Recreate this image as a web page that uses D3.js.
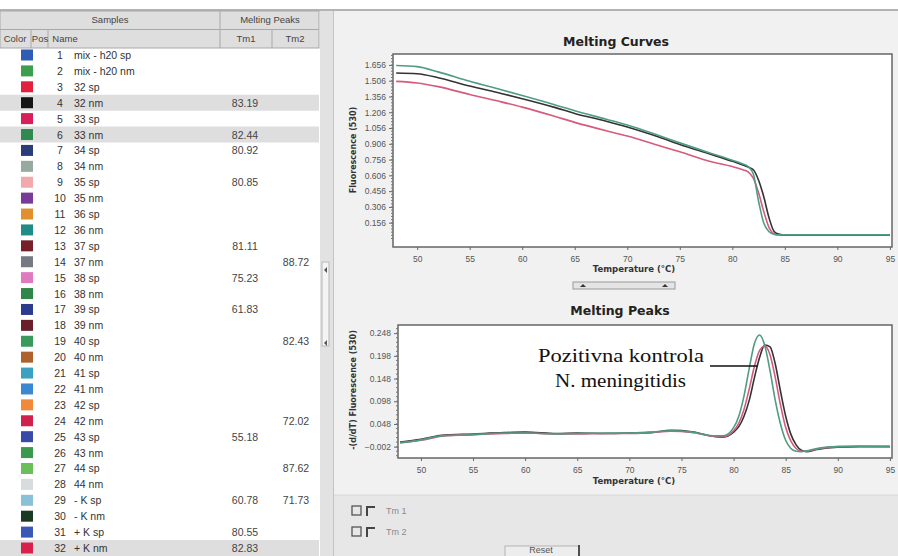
<!DOCTYPE html>
<html>
<head>
<meta charset="utf-8">
<script src="https://cdn.jsdelivr.net/npm/d3@7"></script>
<style>
  body { margin: 0; background: #fff; }
  svg { display: block; font-family: "Liberation Sans", Arial, sans-serif; }
</style>
</head>
<body>
<svg id="chart" width="898" height="556"></svg>
<script>
// samples table
const samplePos = [1, 2, 3, 4, 5, 6, 7, 8, 9, 10, 11, 12, 13, 14, 15, 16,
  17, 18, 19, 20, 21, 22, 23, 24, 25, 26, 27, 28, 29, 30, 31, 32];
const sampleNames = ['mix - h20 sp', 'mix - h20 nm', '32 sp', '32 nm', '33 sp', '33 nm',
  '34 sp', '34 nm', '35 sp', '35 nm', '36 sp', '36 nm', '37 sp', '37 nm', '38 sp', '38 nm',
  '39 sp', '39 nm', '40 sp', '40 nm', '41 sp', '41 nm', '42 sp', '42 nm', '43 sp', '43 nm',
  '44 sp', '44 nm', '- K sp', '- K nm', '+ K sp', '+ K nm'];
const sampleColors = ['#2f5db5', '#3d9e4c', '#e21f3c', '#151515', '#d81f5c', '#2f8a50',
  '#2b3c78', '#97aa9f', '#f1a9ab', '#7a3a98', '#e0902c', '#1f8c88', '#78202a', '#767a82',
  '#e07ac0', '#2f8648', '#2b3c8e', '#6a1f2c', '#3a9a5c', '#b0622e', '#3aa2c0', '#3a88d0',
  '#f08a3a', '#d0204c', '#3a4aa8', '#3a9a4c', '#6abf5a', '#d8dcdc', '#8ac0d8', '#1a3a22',
  '#3a58b6', '#d8204c'];
const tm1Values = [null, null, null, 83.19, null, 82.44, 80.92, null, 80.85, null, null, null,
  81.11, null, 75.23, null, 61.83, null, null, null, null, null, null, null, 55.18, null,
  null, null, 60.78, null, 80.55, 82.83];
const tm2Values = [null, null, null, null, null, null, null, null, null, null, null, null,
  null, 88.72, null, null, null, null, 82.43, null, null, null, null, 72.02, null, null,
  87.62, null, 71.73, null, null, null];
const highlightedRows = [4, 6, 32];

// melting curves (fluorescence 530)
const meltTemps = [48, 50, 52, 55, 58, 60, 63, 65, 68, 70, 73, 75, 78, 80, 81, 81.5, 82,
  82.5, 83, 83.5, 84, 84.5, 85, 88, 90, 92, 95];
const meltGreen = [1.650, 1.640, 1.590, 1.500, 1.420, 1.365, 1.280, 1.220, 1.140, 1.085,
  0.985, 0.915, 0.815, 0.750, 0.715, 0.690, 0.620, 0.360, 0.150, 0.070, 0.045, 0.040,
  0.040, 0.040, 0.040, 0.040, 0.040];
const meltBlack = [1.580, 1.572, 1.535, 1.455, 1.385, 1.335, 1.255, 1.195, 1.120, 1.065,
  0.970, 0.900, 0.805, 0.740, 0.705, 0.685, 0.660, 0.560, 0.400, 0.200, 0.070, 0.045,
  0.040, 0.040, 0.040, 0.040, 0.040];
const meltCrimson = [1.500, 1.485, 1.450, 1.375, 1.305, 1.255, 1.170, 1.110, 1.030, 0.980,
  0.890, 0.830, 0.735, 0.690, 0.660, 0.640, 0.580, 0.440, 0.260, 0.110, 0.050, 0.040,
  0.038, 0.038, 0.038, 0.038, 0.038];
const meltTicks = [0.156, 0.306, 0.456, 0.606, 0.756, 0.906, 1.056, 1.206, 1.356, 1.506, 1.656];

// melting peaks -(d/dT)
const peakTemps = [48, 50, 52, 55, 58, 60, 63, 65, 68, 70, 72, 74, 76, 78, 79, 80, 80.5, 81,
  81.5, 82, 82.5, 83, 83.5, 84, 84.5, 85, 85.5, 86, 86.5, 87, 88, 90, 92, 95];
const peakGreen = [0.006, 0.013, 0.022, 0.024, 0.028, 0.028, 0.026, 0.027, 0.028, 0.028,
  0.030, 0.033, 0.030, 0.022, 0.022, 0.040, 0.065, 0.110, 0.170, 0.225, 0.244, 0.220,
  0.165, 0.100, 0.048, 0.012, -0.006, -0.012, -0.013, -0.011, -0.006, -0.002, -0.001, -0.002];
const peakBlack = [0.008, 0.014, 0.023, 0.026, 0.029, 0.030, 0.027, 0.028, 0.027, 0.028,
  0.029, 0.034, 0.031, 0.021, 0.019, 0.030, 0.042, 0.065, 0.100, 0.150, 0.195, 0.222,
  0.218, 0.180, 0.120, 0.065, 0.025, 0.002, -0.010, -0.013, -0.008, -0.003, -0.002, -0.002];
const peakCrimson = [0.007, 0.012, 0.021, 0.025, 0.027, 0.028, 0.026, 0.026, 0.027, 0.027,
  0.029, 0.032, 0.029, 0.021, 0.020, 0.033, 0.050, 0.080, 0.125, 0.175, 0.210, 0.220,
  0.200, 0.150, 0.090, 0.040, 0.010, -0.006, -0.012, -0.012, -0.007, -0.002, -0.001, -0.001];
const peakTicks = [-0.002, 0.048, 0.098, 0.148, 0.198, 0.248];

const tempTicks = [50, 55, 60, 65, 70, 75, 80, 85, 90, 95];
const curveColors = { green: '#4f9c84', black: '#333333', crimson: '#d65a7c' };

const svg = d3.select('#chart');

// ---------- left panel: table ----------
const rowY = d3.scaleLinear().domain([1, 32]).range([55, 548]);

svg.append('line').attr('x1', 0).attr('x2', 898).attr('y1', 10).attr('y2', 10)
  .attr('stroke', '#9a9a9a').attr('stroke-width', 1.5);

const head = svg.append('g');
head.append('rect').attr('x', 0).attr('y', 11).attr('width', 319).attr('height', 37)
  .attr('fill', '#dedede').attr('stroke', '#a8a8a8');
head.append('line').attr('x1', 0).attr('x2', 319).attr('y1', 29.5).attr('y2', 29.5)
  .attr('stroke', '#a8a8a8');
[[31, 29.5], [48, 29.5], [220, 11], [272, 29.5]].forEach(([x, y0]) => {
  head.append('line').attr('x1', x).attr('x2', x).attr('y1', y0).attr('y2', 48)
    .attr('stroke', '#a8a8a8');
});
const headTexts = [
  { t: 'Samples', x: 110, y: 23 }, { t: 'Melting Peaks', x: 270, y: 23 },
  { t: 'Color', x: 15, y: 42 }, { t: 'Pos', x: 40, y: 42 },
  { t: 'Name', x: 65, y: 42 }, { t: 'Tm1', x: 246, y: 42 }, { t: 'Tm2', x: 295, y: 42 }
];
head.selectAll('text').data(headTexts).enter().append('text')
  .attr('x', d => d.x).attr('y', d => d.y)
  .attr('text-anchor', 'middle')
  .style('font-size', '9.5px').style('fill', '#444')
  .text(d => d.t);

const rows = svg.append('g').selectAll('g')
  .data(samplePos).enter().append('g')
  .attr('transform', d => `translate(0, ${rowY(d)})`);

rows.filter(d => highlightedRows.includes(d)).append('rect')
  .attr('x', 0).attr('y', -8).attr('width', 319).attr('height', 16)
  .attr('fill', '#dedede');

rows.append('rect')
  .attr('x', 21).attr('y', -5.5).attr('width', 12).attr('height', 11)
  .attr('fill', (d, i) => sampleColors[i]);

rows.append('text')
  .attr('x', 60).attr('y', 4).attr('text-anchor', 'middle')
  .style('font-size', '10.5px').style('fill', '#333')
  .text(d => d);

rows.append('text')
  .attr('x', 74).attr('y', 4)
  .style('font-size', '10.5px').style('fill', '#333')
  .text((d, i) => sampleNames[i]);

rows.append('text')
  .attr('x', 245).attr('y', 4).attr('text-anchor', 'middle')
  .style('font-size', '10.5px').style('fill', '#444')
  .text((d, i) => tm1Values[i] == null ? '' : tm1Values[i].toFixed(2));

rows.append('text')
  .attr('x', 296).attr('y', 4).attr('text-anchor', 'middle')
  .style('font-size', '10.5px').style('fill', '#444')
  .text((d, i) => tm2Values[i] == null ? '' : tm2Values[i].toFixed(2));

// splitter between panels
svg.append('rect').attr('x', 320).attr('y', 11).attr('width', 13).attr('height', 545)
  .attr('fill', '#e2e2e2');
svg.append('rect').attr('x', 322).attr('y', 262).attr('width', 7).attr('height', 84)
  .attr('fill', '#f4f4f4').attr('stroke', '#b8b8b8');
[270, 343].forEach(y => {
  svg.append('path').attr('d', `M327,${y - 3} L324,${y} L327,${y + 3}Z`).attr('fill', '#555');
});

// ---------- right panel ----------
svg.append('rect').attr('x', 333).attr('y', 11).attr('width', 565).attr('height', 545)
  .attr('fill', '#f1f1f1');
svg.append('line').attr('x1', 333.5).attr('x2', 333.5).attr('y1', 11).attr('y2', 556)
  .attr('stroke', '#c4c4c4');
svg.append('rect').attr('x', 334).attr('y', 495).attr('width', 564).attr('height', 61)
  .attr('fill', '#e7e7e7');
svg.append('line').attr('x1', 334).attr('x2', 898).attr('y1', 495).attr('y2', 495)
  .attr('stroke', '#d8d8d8');

// chart panel splitter handle
svg.append('rect').attr('x', 573).attr('y', 282).attr('width', 102).attr('height', 7)
  .attr('fill', '#e4e4e4').attr('stroke', '#9a9a9a');
svg.append('path').attr('d', 'M580,287 L583,284 L586,287Z').attr('fill', '#333');
svg.append('path').attr('d', 'M662,287 L665,284 L668,287Z').attr('fill', '#333');

function drawPanel(cfg) {
  const x = d3.scaleLinear().domain(cfg.xDomain).range([cfg.left, cfg.right]);
  const y = d3.scaleLinear().domain(cfg.yDomain).range([cfg.bottom, cfg.top]);
  const g = svg.append('g');

  g.append('text')
    .attr('x', cfg.titleX).attr('y', cfg.titleY).attr('text-anchor', 'middle')
    .style('font-family', '"DejaVu Sans", Verdana, sans-serif')
    .style('font-size', '12.5px').style('font-weight', 'bold').style('fill', '#222')
    .text(cfg.title);

  g.append('rect')
    .attr('x', cfg.left).attr('y', cfg.top)
    .attr('width', cfg.right - cfg.left).attr('height', cfg.bottom - cfg.top)
    .attr('fill', '#fff');

  const clipId = 'clip-' + cfg.id;
  g.append('clipPath').attr('id', clipId).append('rect')
    .attr('x', cfg.left).attr('y', cfg.top)
    .attr('width', cfg.right - cfg.left).attr('height', cfg.bottom - cfg.top);

  const line = d3.line()
    .x(d => x(d[0])).y(d => y(d[1]))
    .curve(d3.curveMonotoneX);

  const lines = g.append('g').attr('clip-path', `url(#${clipId})`);
  cfg.series.forEach(s => {
    lines.append('path')
      .datum(cfg.temps.map((t, i) => [t, s.values[i]]))
      .attr('d', line)
      .attr('fill', 'none')
      .attr('stroke', s.color)
      .attr('stroke-width', 1.6);
  });

  g.append('rect')
    .attr('x', cfg.left).attr('y', cfg.top)
    .attr('width', cfg.right - cfg.left).attr('height', cfg.bottom - cfg.top)
    .attr('fill', 'none').attr('stroke', '#666').attr('stroke-width', 1.5);

  // axes
  const xAxis = g.append('g')
    .attr('transform', `translate(0, ${cfg.bottom})`)
    .call(d3.axisBottom(x).tickValues(tempTicks).tickSize(3).tickFormat(d3.format('d')));
  const yAxis = g.append('g')
    .attr('transform', `translate(${cfg.left}, 0)`)
    .call(d3.axisLeft(y).tickValues(cfg.yTicks).tickSize(4).tickFormat(d3.format('.3f')));

  // minor ticks on y axis
  const step = cfg.yTicks[1] - cfg.yTicks[0];
  const minor = [];
  for (let v = cfg.yTicks[0] - step; v < cfg.yDomain[1]; v += step / 5) {
    if (v > cfg.yDomain[0]) minor.push(v);
  }
  g.append('g').selectAll('line').data(minor).enter().append('line')
    .attr('x1', cfg.left - 2).attr('x2', cfg.left)
    .attr('y1', d => y(d)).attr('y2', d => y(d))
    .attr('stroke', '#777');

  [xAxis, yAxis].forEach(a => {
    a.select('.domain').remove();
    a.selectAll('line').attr('stroke', '#666');
    a.selectAll('text')
      .style('font-family', '"Liberation Sans", Arial, sans-serif')
      .style('font-size', '8.5px').style('fill', '#555');
  });
  xAxis.selectAll('text').attr('dy', '1.1em');

  g.append('text')
    .attr('x', cfg.xLabelX).attr('y', cfg.xLabelY).attr('text-anchor', 'middle')
    .style('font-family', '"DejaVu Sans", Verdana, sans-serif')
    .style('font-size', '8.5px').style('font-weight', 'bold').style('fill', '#333')
    .text('Temperature (°C)');

  g.append('text')
    .attr('transform', `translate(${cfg.yLabelX}, ${cfg.yLabelY}) rotate(-90)`)
    .attr('text-anchor', 'middle')
    .style('font-family', '"DejaVu Sans", Verdana, sans-serif')
    .style('font-size', '8px').style('font-weight', 'bold').style('fill', '#333')
    .text(cfg.yLabel);

  return { x, y, g };
}

drawPanel({
  id: 'curves', title: 'Melting Curves', titleX: 616, titleY: 46,
  left: 393, right: 892, top: 54, bottom: 247,
  xDomain: [47.7, 95.2], yDomain: [-0.075, 1.76], yTicks: meltTicks,
  temps: meltTemps,
  series: [
    { values: meltCrimson, color: curveColors.crimson },
    { values: meltBlack, color: curveColors.black },
    { values: meltGreen, color: curveColors.green }
  ],
  xLabelX: 634, xLabelY: 272, yLabelX: 356, yLabelY: 150, yLabel: 'Fluorescence (530)'
});

const peaks = drawPanel({
  id: 'peaks', title: 'Melting Peaks', titleX: 620, titleY: 315,
  left: 398, right: 892, top: 325, bottom: 458,
  xDomain: [47.8, 95.2], yDomain: [-0.027, 0.266], yTicks: peakTicks,
  temps: peakTemps,
  series: [
    { values: peakBlack, color: curveColors.black },
    { values: peakCrimson, color: curveColors.crimson },
    { values: peakGreen, color: curveColors.green }
  ],
  xLabelX: 634, xLabelY: 484, yLabelX: 356, yLabelY: 390, yLabel: '-(d/dT) Fluorescence (530)'
});

// annotation for positive control
const note = peaks.g.append('g')
  .style('font-family', '"Liberation Serif", "Times New Roman", serif')
  .style('font-size', '18px').style('fill', '#111');
note.append('text').attr('x', 538).attr('y', 362)
  .attr('textLength', 166).attr('lengthAdjust', 'spacingAndGlyphs')
  .text('Pozitivna kontrola');
note.append('text').attr('x', 555).attr('y', 387)
  .attr('textLength', 131).attr('lengthAdjust', 'spacingAndGlyphs')
  .text('N. meningitidis');
peaks.g.append('line')
  .attr('x1', 710).attr('x2', peaks.x(82.3)).attr('y1', 366).attr('y2', 366)
  .attr('stroke', '#111').attr('stroke-width', 1.5);

// Tm checkboxes and reset button
const tmBoxes = ['Tm 1', 'Tm 2'];
const boxes = svg.append('g').selectAll('g')
  .data(tmBoxes).enter().append('g')
  .attr('transform', (d, i) => `translate(0, ${i * 21})`);
boxes.append('rect').attr('x', 352).attr('y', 506).attr('width', 9).attr('height', 9)
  .attr('fill', 'none').attr('stroke', '#555').attr('stroke-width', 1.3);
boxes.append('path').attr('d', 'M367,516 L367,507 L375,507')
  .attr('fill', 'none').attr('stroke', '#444').attr('stroke-width', 2);
boxes.append('text').attr('x', 386).attr('y', 514)
  .style('font-size', '9px').style('fill', '#8a8a8a')
  .text(d => d);

svg.append('rect').attr('x', 505).attr('y', 546).attr('width', 74).attr('height', 14)
  .attr('fill', '#ededed').attr('stroke', '#b4b4b4');
svg.append('line').attr('x1', 579).attr('x2', 579).attr('y1', 545).attr('y2', 556)
  .attr('stroke', '#222').attr('stroke-width', 1.5);
svg.append('text').attr('x', 541).attr('y', 553).attr('text-anchor', 'middle')
  .style('font-size', '9px').style('fill', '#555')
  .text('Reset');
</script>
</body>
</html>
